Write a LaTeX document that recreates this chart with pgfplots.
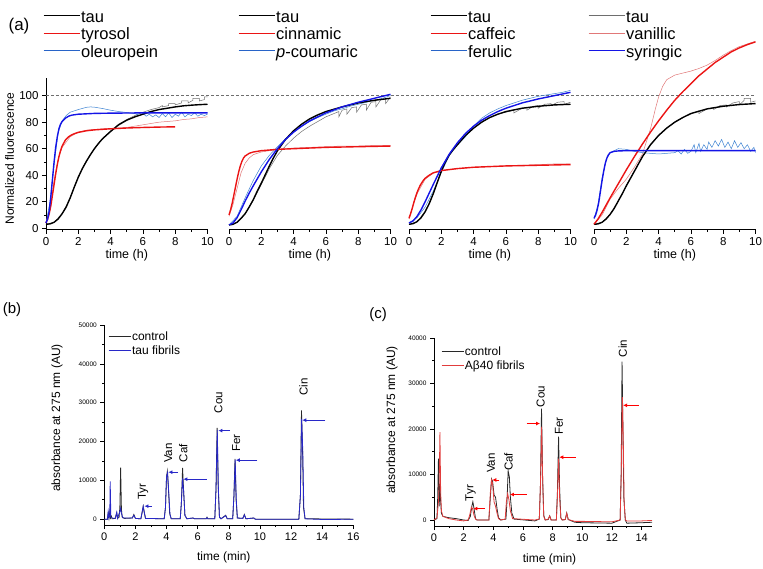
\documentclass[border=0pt]{standalone}
\usepackage{fontspec}
\setmainfont{Liberation Sans}
\usepackage{pgfplots}
\pgfplotsset{compat=1.18}
\usetikzlibrary{arrows.meta}
\definecolor{fitred}{RGB}{235,20,20}
\definecolor{datred}{RGB}{225,120,120}
\definecolor{fitblue}{RGB}{20,20,230}
\definecolor{datblue}{RGB}{60,130,210}
\definecolor{datgray}{RGB}{110,110,110}
\definecolor{legblue}{RGB}{40,100,200}
\definecolor{chromblue}{RGB}{40,40,200}
\definecolor{chromred}{RGB}{225,60,60}
\definecolor{chromblack}{RGB}{40,40,40}
\newcommand{\tstrut}{\rule[-4.5pt]{0pt}{18.5pt}}
\newcommand{\bstrut}{\rule[-3pt]{0pt}{13.5pt}}
\tikzset{lbl/.style={rotate=90, font=\fontsize{11.5}{13}\selectfont}}
\pgfplotsset{
  common/.style={
    scale only axis, clip=false,
    tick align=outside, major tick length=4pt, minor tick length=2pt,
    tick style={black, line width=0.6pt},
    axis line style={black, line width=0.6pt, -},
    /pgf/number format/assume math mode=true,
    legend cell align=left,
  },
  topax/.style={common,
    width=161.5pt, height=151.2pt,
    xmin=0, xmax=10, ymin=-1, ymax=113,
    axis x line*=bottom,
    xtick={0,2,...,10}, minor x tick num=1,
    xlabel={time (h)},
    xlabel style={at={(axis description cs:0.5,-0.168)}, anchor=center, font=\fontsize{12.5}{14}\selectfont},
    ticklabel style={font=\fontsize{11.5}{13}\selectfont},
    ylabel style={font=\fontsize{12}{14}\selectfont},
    legend style={draw=none, fill=none, font=\fontsize{16.5}{18}\selectfont,
      anchor=north west, inner sep=0pt,
      nodes={inner sep=1pt}},
    legend image code/.code={\draw[##1] (0pt,0pt) -- (36pt,0pt);},
  },
  botax/.style={common,
    axis x line*=bottom, axis y line*=left,
    minor x tick num=1, minor y tick num=1,
    scaled y ticks=false,
    yticklabel style={font=\fontsize{6.5}{8}\selectfont, /pgf/number format/1000 sep={}},
    xticklabel style={font=\fontsize{11}{13}\selectfont},
    label style={font=\fontsize{12}{14}\selectfont},
    xlabel={time (min)},
    ylabel={absorbance at 275 nm (AU)},
    legend style={draw=none, fill=none, font=\fontsize{12}{14}\selectfont,
      anchor=north west, inner sep=0pt,
      nodes={inner sep=1pt}},
    legend image code/.code={\draw[##1] (0pt,0pt) -- (22pt,0pt);},
  },
  fit/.style={line width=1.4pt},
  dat/.style={line width=0.5pt},
  arr/.style={line width=0.9pt, -{Latex[length=4pt,width=4pt]}},
}
\begin{document}
\begin{tikzpicture}
\path[use as bounding box] (0pt,0pt) rectangle (763pt,568pt);
\node[font=\fontsize{17}{20}\selectfont] at (19pt,542pt) {(a)};
\node[font=\fontsize{15}{18}\selectfont] at (12pt,258pt) {(b)};
\node[font=\fontsize{15}{18}\selectfont] at (378pt,253pt) {(c)};

% ---------------- panel 1
\begin{axis}[topax, at={(46pt,338.4pt)}, anchor=south west,
  axis y line*=left, ytick={0,20,...,100}, minor y tick num=1,
  ylabel={Normalized fluorescence},
  ylabel style={at={(axis description cs:-0.225,0.47)}, anchor=center},
  legend style={at={(axis description cs:-0.019,1.472)}}]
\addlegendimage{black, line width=1pt}\addlegendentry{\tstrut tau}
\addlegendimage{fitred, line width=1pt}\addlegendentry{\tstrut tyrosol}
\addlegendimage{legblue, line width=1pt}\addlegendentry{\tstrut oleuropein}
\addplot[forget plot, densely dashed, datgray, line width=0.6pt] coordinates {(0,100) (43.96,100)};
\addplot[forget plot, dat, datgray] coordinates {(0,3) (0.5,4.5) (1,11) (1.5,23) (2,39) (2.5,50.5) (3,60) (3.5,67.5) (4,73.5) (4.5,78.5) (5,82) (5.5,85) (6,87.5) (6.5,89.5) (7,91) (7.2,92.5) (7.2,91.5) (7.6,92.5) (7.6,94) (8,94) (8,93) (8.4,94.5) (8.4,96) (8.8,96) (8.8,94.5) (9.1,96.5) (9.1,98) (9.5,98) (9.5,96) (9.8,97) (9.8,99) (10,99)};
\addplot[forget plot, dat, datred] coordinates {(0,4) (0.25,14) (0.5,36) (0.75,52) (1,61) (1.5,69) (2,72.5) (2.5,74) (3,74.5) (3.5,75) (4,75.3) (4.5,75.5) (5,76) (5.5,77) (6,78) (6.5,79) (7,80) (7.5,80.5) (8,81) (8.5,82) (9,82.5) (9.5,83.5) (10,84)};
\addplot[forget plot, dat, datblue] coordinates {(0,4) (0.25,20) (0.5,48) (0.75,72) (1,81) (1.25,85) (1.5,87.5) (2,89.5) (2.5,91.2) (2.75,91.5) (3,91.3) (3.5,90.3) (4,89) (4.5,88) (5,87.3) (5.5,86.5) (5.8,85) (6,86.5) (6.2,84.5) (6.4,86) (6.6,84) (6.8,85.5) (7,83.5) (7.2,86.5) (7.4,84) (7.6,87) (7.8,83.5) (8,86) (8.2,84.5) (8.4,87.5) (8.6,84) (8.8,86) (9,85) (9.2,87) (9.4,84.5) (9.6,86) (9.8,85) (10,86)};
\addplot[forget plot, fit, black] coordinates {(0,3) (0.25,3.3) (0.5,4.5) (0.75,7) (1,11) (1.25,16) (1.5,23) (1.75,31) (2,38.5) (2.25,45) (2.5,50.5) (2.75,55.5) (3,60) (3.25,64) (3.5,67.5) (4,73) (4.5,78) (5,81.5) (5.5,84) (6,86) (6.5,88) (7,89.5) (7.5,90.5) (8,91.5) (8.5,92.3) (9,92.8) (9.5,93.2) (10,93.5)};
\addplot[forget plot, fit, fitred] coordinates {(0,4) (0.1,7) (0.2,11) (0.3,17) (0.4,25) (0.5,33) (0.6,41) (0.7,48) (0.8,54) (0.9,58.5) (1,62) (1.2,66.5) (1.4,69) (1.6,70.5) (1.8,71.5) (2,72.3) (2.5,73.5) (3,74.2) (4,75) (5,75.6) (6,76) (7,76.3) (8,76.5)};
\addplot[forget plot, fit, fitblue] coordinates {(0,4) (0.1,7) (0.2,13) (0.3,24) (0.4,37) (0.5,50) (0.6,61) (0.7,69) (0.8,75) (0.9,78.5) (1,80.5) (1.2,83) (1.4,84.5) (1.6,85.3) (2,86) (3,86.6) (4,86.8) (6,87) (10,87)};
\end{axis}

% ---------------- panel 2
\begin{axis}[topax, at={(229pt,338.4pt)}, anchor=south west,
  axis y line=none,
  legend style={at={(axis description cs:0.056,1.472)}}]
\addlegendimage{black, line width=1pt}\addlegendentry{\tstrut tau}
\addlegendimage{fitred, line width=1pt}\addlegendentry{\tstrut cinnamic}
\addlegendimage{legblue, line width=1pt}\addlegendentry{\tstrut\textit{p}-coumaric}
\addplot[forget plot, dat, datgray] coordinates {(0,2.5) (0.5,4.5) (1,11) (1.5,21) (2,33) (2.5,45) (3,55) (3.5,62) (4,68) (4.5,73) (5,77) (5.5,80.5) (6,84) (6.5,86.5) (6.8,88) (6.8,84) (7,89) (7.3,90) (7.3,86) (7.6,91) (7.9,91.5) (7.9,87.5) (8.2,93) (8.5,93.5) (8.5,89) (8.8,95) (9.1,95.5) (9.1,91.5) (9.4,97) (9.7,97.5) (9.7,94) (10,99)};
\addplot[forget plot, dat, datred] coordinates {(0,9) (0.25,18) (0.5,30) (0.75,42) (1,49) (1.25,53) (1.5,55.5) (2,57.5) (2.5,58.5) (3,59.5) (4,60.5) (5,61) (6,61.5) (7,62) (8,62) (9,62.5) (10,62.5)};
\addplot[forget plot, dat, datblue] coordinates {(0,2.5) (0.5,9) (1,23) (1.5,36) (2,47) (2.5,55) (3,61.5) (3.5,67.5) (4,72.5) (4.5,77) (5,80.5) (5.5,83.5) (6,86) (6.5,88.5) (7,90) (7.5,92) (8,93.5) (8.5,95) (9,96.5) (9.5,98) (10,100)};
\addplot[forget plot, fit, black] coordinates {(0,2.5) (0.25,3) (0.5,4.5) (0.75,7.5) (1,11) (1.25,16) (1.5,21.5) (1.75,28) (2,34) (2.25,40.5) (2.5,47) (2.75,53) (3,58.5) (3.5,67) (4,73.5) (4.5,78.5) (5,82.5) (5.5,85.5) (6,88) (7,91.5) (8,94.5) (9,96.5) (10,98)};
\addplot[forget plot, fit, fitred] coordinates {(0,10) (0.1,14) (0.2,19) (0.3,25) (0.4,31) (0.5,37) (0.6,42.5) (0.7,47) (0.8,50.5) (0.9,53) (1,54.5) (1.25,56.5) (1.5,57.5) (2,58.5) (3,59.5) (4,60) (5,60.5) (6,61) (8,61.5) (10,62)};
\addplot[forget plot, fit, fitblue] coordinates {(0,2.5) (0.25,4) (0.5,8) (0.75,14) (1,20.5) (1.25,26.5) (1.5,32) (2,42.5) (2.5,52) (3,60) (3.5,67) (4,72.5) (4.5,77) (5,81) (5.5,84) (6,87) (7,91.5) (8,95) (9,98) (10,101)};
\end{axis}

% ---------------- panel 3
\begin{axis}[topax, at={(409pt,338.4pt)}, anchor=south west,
  axis y line=none,
  legend style={at={(axis description cs:0.13,1.472)}}]
\addlegendimage{black, line width=1pt}\addlegendentry{\tstrut tau}
\addlegendimage{fitred, line width=1pt}\addlegendentry{\tstrut caffeic}
\addlegendimage{legblue, line width=1pt}\addlegendentry{\tstrut ferulic}
\addplot[forget plot, dat, datgray] coordinates {(0,3) (0.5,5) (1,12.5) (1.5,26) (2,43) (2.5,55) (3,63) (3.5,70) (4,75.5) (4.5,80) (5,83.5) (5.5,86) (6,87.5) (6.5,89) (6.5,87) (7,90.5) (7.3,91) (7.3,89) (7.7,92) (8,92.5) (8,90.5) (8.4,93.5) (8.8,94) (8.8,92.5) (9.2,95) (9.6,95.5) (9.6,93.5) (10,95)};
\addplot[forget plot, dat, datred] coordinates {(0,7) (0.25,17) (0.5,26) (1,37) (1.5,41.5) (2,43.5) (3,45) (4,46) (5,46.5) (6,47) (7,47.5) (8,48) (9,48.5) (10,48.5)};
\addplot[forget plot, dat, datblue] coordinates {(0,4) (0.5,8) (1,16) (1.5,28) (2,42) (2.5,55) (3,63) (3.5,69) (4,77) (4.5,83) (5,87) (5.5,90) (6,92.5) (6.5,94.5) (7,96.5) (7.5,98) (8,99.5) (8.5,100.5) (9,101.5) (9.5,102.5) (10,104)};
\addplot[forget plot, fit, black] coordinates {(0,3) (0.25,3.5) (0.5,5) (0.75,8) (1,12.5) (1.25,18.5) (1.5,26) (1.75,34.5) (2,43) (2.25,50) (2.5,55.5) (2.75,59.5) (3,63) (3.5,70) (4,75.5) (4.5,80) (5,83.5) (5.5,86) (6,88) (7,90.5) (8,92) (9,93) (10,93.5)};
\addplot[forget plot, fit, fitred] coordinates {(0,7.5) (0.1,11) (0.2,15) (0.3,19.5) (0.4,23.5) (0.5,27) (0.6,30) (0.7,32.5) (0.8,34.5) (0.9,36.3) (1,37.7) (1.25,40) (1.5,41.8) (2,43.5) (3,45) (4,46) (6,47) (8,47.5) (10,48)};
\addplot[forget plot, fit, fitblue] coordinates {(0,4) (0.25,5.5) (0.5,9) (0.75,14) (1,20) (1.25,26.5) (1.5,33) (2,45.5) (2.5,56) (3,64.5) (3.5,71.5) (4,77) (4.5,81.5) (5,85) (5.5,88) (6,90.5) (7,94.5) (8,97.5) (9,100) (10,102.5)};
\end{axis}

% ---------------- panel 4
\begin{axis}[topax, at={(594pt,338.4pt)}, anchor=south west,
  axis y line=none,
  legend style={at={(axis description cs:-0.037,1.472)}}]
\addlegendimage{datgray, line width=1pt}\addlegendentry{\tstrut tau}
\addlegendimage{datred, line width=1pt}\addlegendentry{\tstrut vanillic}
\addlegendimage{fitblue, line width=1pt}\addlegendentry{\tstrut syringic}
\addplot[forget plot, dat, datgray] coordinates {(0,3) (0.5,4.5) (1,10.5) (1.5,20.5) (2,32) (2.5,43) (3,54) (3.5,63) (4,70) (4.5,75.5) (5,80) (5.5,83.5) (6,86.5) (6.5,88.5) (6.5,86.5) (7,90) (7.4,91) (7.4,89.5) (7.8,92.5) (8.2,93) (8.2,91.5) (8.6,94.5) (9,95.5) (9,93) (9.3,96.5) (9.3,98) (9.7,98) (9.7,95) (10,96)};
\addplot[forget plot, dat, datred] coordinates {(0,3) (0.5,10) (1,22) (1.5,30) (2,37) (2.5,46) (3,56) (3.5,75) (3.8,90) (4,99) (4.25,107) (4.5,112) (5,115.5) (5.5,117) (6,118.5) (6.5,120.5) (7,123) (7.5,126.5) (8,130.5) (8.5,134) (9,137) (9.5,139) (10,141)};
\addplot[forget plot, dat, datblue] coordinates {(0,7) (0.25,18) (0.5,38) (0.75,52) (1,57) (1.5,60) (2,59.5) (2.5,58) (3,57) (3.5,56.5) (4,56) (4.5,56.5) (5,57) (5.2,58.5) (5.4,56) (5.6,59.5) (5.8,56.5) (6,58) (6.2,63) (6.3,57) (6.5,64) (6.6,58) (6.8,63) (7,59.5) (7.1,65) (7.3,61) (7.5,66) (7.7,62) (7.9,67) (8.1,61) (8.3,65) (8.5,60) (8.7,66) (8.9,61) (9.1,64.5) (9.3,60) (9.5,63) (9.7,58) (9.9,61) (10,57)};
\addplot[forget plot, fit, black] coordinates {(0,3) (0.25,3.3) (0.5,4.5) (0.75,7) (1,10.5) (1.25,15) (1.5,20.5) (1.75,26) (2,32) (2.25,37.5) (2.5,43) (2.75,48.5) (3,54) (3.5,63) (4,70) (4.5,75.5) (5,80) (5.5,83.5) (6,86.5) (7,90) (8,92) (9,93.3) (10,94)};
\addplot[forget plot, fit, fitred] coordinates {(0,3) (0.25,7) (0.5,12) (1,23) (1.5,33.5) (2,44) (2.5,54) (3,63.5) (3.5,72.5) (4,81) (4.5,89) (5,96.5) (5.5,103) (6,109) (6.5,115) (7,120) (7.5,125) (8,129) (8.5,133) (9,136) (9.5,138.5) (10,140.5)};
\addplot[forget plot, fit, fitblue] coordinates {(0,7.5) (0.1,10) (0.2,14) (0.3,20) (0.4,28) (0.5,36) (0.6,43) (0.7,49) (0.8,53) (0.9,55.5) (1,57) (1.25,58) (1.5,58.3) (2,58.5) (10,58.5)};
\end{axis}

% ---------------- panel (b)
\begin{axis}[botax, at={(104.3pt,43pt)}, anchor=south west,
  width=249pt, height=200pt,
  xmin=0, xmax=16, ymin=-1500, ymax=50000,
  xtick={0,2,...,16}, ytick={0,10000,...,50000},
  xlabel style={at={(axis description cs:0.48,-0.16)}, anchor=center},
  ylabel style={at={(axis description cs:-0.19,0.535)}, anchor=center},
  legend style={at={(axis description cs:0.015,0.979)}}]
\addplot[chromblack, line width=0.8pt] coordinates {(0,0) (0.2,0) (0.25,1500) (0.3,200) (0.35,1800) (0.4,300) (0.45,800) (0.5,100) (0.7,200) (0.8,1600) (0.85,200) (0.95,500) (1.0,3000) (1.05,13300) (1.1,2500) (1.15,500) (1.3,200) (1.8,300) (1.9,1200) (2.0,200) (2.35,100) (2.42,1500) (2.5,3300) (2.58,1500) (2.65,200) (3.85,100) (3.93,3000) (4.0,11000) (4.05,12300) (4.12,8000) (4.2,1500) (4.3,100) (4.88,100) (4.95,4000) (5.03,13200) (5.1,7000) (5.18,1000) (5.3,100) (5.7,300) (5.8,100) (6.55,100) (6.6,500) (6.65,100) (7.1,100) (7.18,8000) (7.25,23500) (7.32,8000) (7.4,500) (7.5,100) (7.8,1000) (7.9,100) (8.25,100) (8.33,6000) (8.4,15500) (8.47,5000) (8.55,300) (8.9,200) (9.0,1200) (9.1,100) (9.6,300) (9.7,0) (12.5,0) (12.6,6000) (12.67,28000) (12.74,18000) (12.8,3000) (12.9,100) (16,0)};
\addlegendentry{\bstrut control}
\addplot[chromblue, line width=0.8pt] coordinates {(0,0) (0.2,0) (0.25,2000) (0.3,300) (0.35,1000) (0.38,9700) (0.42,500) (0.5,300) (0.7,200) (0.8,1800) (0.85,200) (1.0,2000) (1.05,2800) (1.1,1500) (1.2,300) (1.8,300) (1.9,1000) (2.0,200) (2.35,100) (2.42,1600) (2.5,3300) (2.58,1500) (2.65,200) (3.85,100) (3.93,3000) (4.0,11000) (4.07,12000) (4.14,7000) (4.22,1200) (4.3,100) (4.88,100) (4.95,4000) (5.03,10500) (5.1,7000) (5.18,1000) (5.3,100) (5.7,300) (5.8,100) (6.55,100) (6.6,400) (6.65,100) (7.1,100) (7.18,8000) (7.26,23000) (7.33,8000) (7.4,500) (7.5,100) (7.8,900) (7.9,100) (8.25,100) (8.33,6000) (8.41,15300) (8.48,5000) (8.55,300) (8.9,200) (9.0,1100) (9.1,100) (9.6,300) (9.7,0) (12.5,0) (12.6,6000) (12.68,25800) (12.75,18000) (12.82,3000) (12.9,100) (14.2,-100) (16,0)};
\addlegendentry{\bstrut tau fibrils}
\addplot[forget plot, arr, chromblue] coordinates {(3.07,3350) (2.58,3350)};
\addplot[forget plot, arr, chromblue] coordinates {(4.75,12100) (4.12,12100)};
\addplot[forget plot, arr, chromblue] coordinates {(6.58,10300) (5.08,10300)};
\addplot[forget plot, arr, chromblue] coordinates {(8.08,22800) (7.33,22800)};
\addplot[forget plot, arr, chromblue] coordinates {(9.84,15200) (8.45,15200)};
\addplot[forget plot, arr, chromblue] coordinates {(14.2,25500) (12.72,25500)};
\node[lbl] at (axis cs:2.5,7000) {Tyr};
\node[lbl] at (axis cs:4.1,17000) {Van};
\node[lbl] at (axis cs:5.07,17000) {Caf};
\node[lbl] at (axis cs:7.33,30000) {Cou};
\node[lbl] at (axis cs:8.47,19600) {Fer};
\node[lbl] at (axis cs:12.8,34000) {Cin};
\end{axis}

% ---------------- panel (c)
\begin{axis}[botax, at={(434pt,42pt)}, anchor=south west,
  width=218pt, height=188pt,
  xmin=0, xmax=14.7, ymin=-1320, ymax=40000,
  xtick={0,2,...,14}, ytick={0,10000,...,40000},
  xlabel style={at={(axis description cs:0.53,-0.18)}, anchor=center},
  ylabel style={at={(axis description cs:-0.193,0.564)}, anchor=center},
  legend style={at={(axis description cs:0.032,0.967)}}]
\addplot[chromblack, line width=0.8pt] coordinates {(0,0) (0.2,300) (0.25,5000) (0.3,13500) (0.35,3000) (0.4,8000) (0.45,4000) (0.5,1500) (0.6,800) (1,500) (1.5,300) (2,0) (2.3,-100) (2.45,800) (2.55,3000) (2.62,4000) (2.7,2500) (2.8,300) (2.9,0) (3.7,0) (3.8,5000) (3.88,9000) (3.95,8500) (4.05,5500) (4.15,5000) (4.25,2500) (4.35,500) (4.5,0) (4.85,200) (4.92,4000) (5.0,10800) (5.08,9500) (5.15,5000) (5.25,1500) (5.4,200) (6.8,-200) (7.1,200) (7.18,8000) (7.25,24500) (7.32,10000) (7.4,1000) (7.5,0) (7.7,100) (7.8,900) (7.9,0) (8.25,0) (8.32,6000) (8.4,18300) (8.47,7000) (8.55,500) (8.65,0) (8.85,100) (8.95,1500) (9.05,100) (9.5,-500) (10,-600) (12,-700) (12.55,0) (12.62,10000) (12.68,34800) (12.74,20000) (12.8,5000) (12.9,0) (13,-700) (14,-600) (14.7,-500)};
\addlegendentry{\bstrut control}
\addplot[chromred, line width=0.8pt] coordinates {(0,0) (0.2,500) (0.3,4000) (0.35,8000) (0.4,19300) (0.45,6000) (0.5,2000) (0.6,800) (1,300) (1.5,0) (2,-200) (2.3,0) (2.4,1000) (2.52,2800) (2.6,2500) (2.7,1000) (2.8,200) (2.9,0) (3.7,0) (3.8,6000) (3.88,8800) (3.95,8000) (4.05,4000) (4.15,3000) (4.25,1500) (4.35,300) (4.5,0) (4.8,200) (4.88,4000) (4.97,5800) (5.05,4500) (5.15,2000) (5.3,300) (6.8,0) (7.1,200) (7.18,8000) (7.26,20500) (7.33,8000) (7.4,800) (7.5,0) (7.7,200) (7.8,900) (7.9,0) (8.25,0) (8.32,5000) (8.4,13500) (8.47,5000) (8.55,500) (8.65,0) (8.85,100) (8.95,1500) (9.05,100) (9.5,-300) (10,-300) (12,-400) (12.55,0) (12.62,9000) (12.7,27000) (12.76,18000) (12.82,4000) (12.9,0) (13,-200) (14,-200) (14.7,-100)};
\addlegendentry{\bstrut Aβ40 fibrils}
\addplot[forget plot, arr, red] coordinates {(3.44,2500) (2.65,2500)};
\addplot[forget plot, arr, red] coordinates {(4.4,8800) (3.93,8800)};
\addplot[forget plot, arr, red] coordinates {(6.25,5600) (5.12,5600)};
\addplot[forget plot, arr, red] coordinates {(6.25,21200) (7.15,21200)};
\addplot[forget plot, arr, red] coordinates {(9.57,13800) (8.45,13800)};
\addplot[forget plot, arr, red] coordinates {(13.8,25200) (12.75,25200)};
\node[lbl] at (axis cs:2.47,5900) {Tyr};
\node[lbl] at (axis cs:3.84,12500) {Van};
\node[lbl] at (axis cs:5.03,12800) {Caf};
\node[lbl] at (axis cs:7.19,27100) {Cou};
\node[lbl] at (axis cs:8.43,20600) {Fer};
\node[lbl] at (axis cs:12.72,37700) {Cin};
\end{axis}
\end{tikzpicture}
\end{document}
